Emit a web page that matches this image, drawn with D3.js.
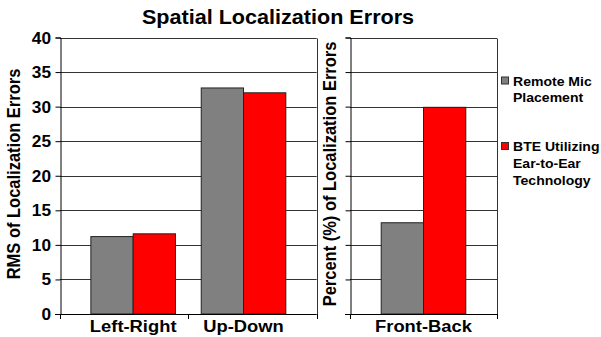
<!DOCTYPE html>
<html lang="en">
  <head>
    <meta charset="utf-8">
    <script src="https://d3js.org/d3.v7.min.js"></script>
    <style>
      body { margin: 0; background: #fff; }
      text { font-family: "Liberation Sans", Arial, sans-serif; font-weight: bold; fill: #000; }
    </style>
    <title>Spatial Localization Errors</title>
  </head>
  <body>
    <script>
    // chart data
    var rmsCategories = ['Left-Right', 'Up-Down'];
    var rmsRemote = [11.2, 32.7];
    var rmsBte = [11.6, 32.0];

    var pctCategories = ['Front-Back'];
    var pctRemote = [13.2];
    var pctBte = [29.9];

    var seriesNames = ['Remote Mic Placement', 'BTE Utilizing Ear-to-Ear Technology'];
    var seriesColors = ['#808080', '#ff0000'];
    var legendLines = [['Remote Mic', 'Placement'], ['BTE Utilizing', 'Ear-to-Ear', 'Technology']];
    var yTicks = [0, 5, 10, 15, 20, 25, 30, 35, 40];

    var w = 601, h = 337;
    var stretch = 1.08; // the original picture is a bit wider than tall

    var svg = d3.select('body').append('svg')
      .attr('width', w)
      .attr('height', h);

    function label(x, y, str, size, anchor, rot) {
      return svg.append('text')
        .attr('transform', 'translate(' + x + ',' + y + ')' +
              (rot ? ' rotate(' + rot + ')' : '') + ' scale(' + (rot ? '1,' + stretch : stretch + ',1') + ')')
        .attr('text-anchor', anchor)
        .style('font-size', size + 'px')
        .text(str);
    }

    var y = d3.scaleLinear().domain([0, 40]).range([314, 37.5]);
    var barW = 42.3;

    // one panel: frame, gridlines, bars, ticks
    function panel(x0, x1, cats, remote, bte, pad, showLabels) {
      var x = d3.scalePoint().domain(cats).range([x0, x1]).padding(pad);
      var g = svg.append('g');

      g.selectAll('line.grid').data(yTicks.slice(1)).enter().append('line')
        .attr('x1', x0).attr('x2', x1)
        .attr('y1', function(d) { return Math.round(y(d)) + 0.5; })
        .attr('y2', function(d) { return Math.round(y(d)) + 0.5; })
        .attr('stroke', '#333').attr('stroke-width', 1);

      // right frame edge
      g.append('line')
        .attr('x1', Math.round(x1) + 0.5).attr('x2', Math.round(x1) + 0.5)
        .attr('y1', Math.round(y(40)) + 0.5).attr('y2', Math.round(y(0)) + 0.5)
        .attr('stroke', '#333');

      var rows = cats.map(function(c, i) { return {cat: c, vals: [remote[i], bte[i]]}; });
      rows.forEach(function(r) {
        g.selectAll(null).data(r.vals).enter().append('rect')
          .attr('x', function(d, i) { return x(r.cat) - barW + i * barW; })
          .attr('y', function(d) { return y(d); })
          .attr('width', barW)
          .attr('height', function(d) { return y(0) - y(d); })
          .attr('fill', function(d, i) { return seriesColors[i]; })
          .attr('stroke', '#222').attr('stroke-width', 1);
        label(x(r.cat), 332, r.cat, 17, 'middle');
      });

      // y axis
      var ya = g.append('g')
        .attr('transform', 'translate(' + (Math.round(x0) + 0.5) + ',0)')
        .call(d3.axisLeft(y).tickValues(yTicks).tickSize(5).tickFormat(''));
      ya.select('.domain').attr('stroke', '#000');
      if (showLabels) {
        yTicks.forEach(function(t) { label(51, y(t) + 6, t, 16, 'end'); });
      }

      // x axis
      var bandEdges = [x0];
      for (var i = 1; i < cats.length; i++) bandEdges.push((x0 + x1) / 2);
      bandEdges.push(x1);
      g.append('line')
        .attr('x1', x0 - 5).attr('x2', x1)
        .attr('y1', Math.round(y(0)) + 0.5).attr('y2', Math.round(y(0)) + 0.5)
        .attr('stroke', '#000');
      g.selectAll('line.xt').data(bandEdges).enter().append('line')
        .attr('x1', function(d) { return Math.round(d) + 0.5; })
        .attr('x2', function(d) { return Math.round(d) + 0.5; })
        .attr('y1', Math.round(y(0))).attr('y2', Math.round(y(0)) + 5)
        .attr('stroke', '#000');
    }

    panel(60, 316.7, rmsCategories, rmsRemote, rmsBte, 0.663, true);
    panel(350, 497, pctCategories, pctRemote, pctBte, 0.5, false);

    // titles
    label(278, 24, 'Spatial Localization Errors', 20, 'middle');
    label(20, 174, 'RMS of Localization Errors', 16.5, 'middle', -90);
    label(336, 174, 'Percent (%) of Localization Errors', 16.5, 'middle', -90);

    // legend
    var legendY = [85.5, 151];
    seriesNames.forEach(function(name, i) {
      svg.append('rect')
        .attr('x', 501.5).attr('y', legendY[i] - 8.5)
        .attr('width', 7).attr('height', 7)
        .attr('fill', seriesColors[i])
        .attr('stroke', '#333');
      legendLines[i].forEach(function(line, j) {
        label(513, legendY[i] + j * 16.8, line, 13, 'start');
      });
    });
    </script>
  </body>
</html>
